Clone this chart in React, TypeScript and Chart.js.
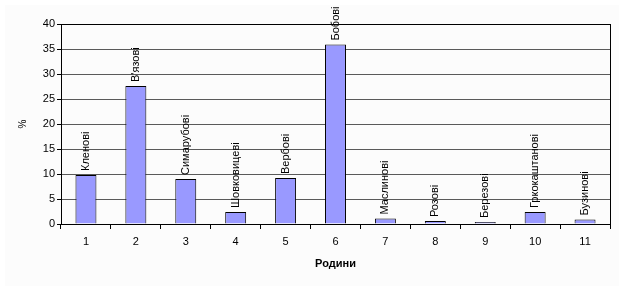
import React, { useEffect, useRef } from "react";
import { Chart, registerables } from "chart.js";

Chart.register(...registerables);

const categories = ["1", "2", "3", "4", "5", "6", "7", "8", "9", "10", "11"];
const families = [
  "Кленові",
  "В'язові",
  "Симарубові",
  "Шовковицеві",
  "Вербові",
  "Бобові",
  "Маслинові",
  "Розові",
  "Березові",
  "Гркокаштанові",
  "Бузинові",
];
const percents = [9.8, 27.6, 9.0, 2.4, 9.2, 35.9, 1.1, 0.6, 0.4, 2.4, 0.9];
const yTicksMax = 40;
const yStep = 5;
const yTitle = "%";
const xTitle = "Родини";

const FONT = "'Liberation Sans', Arial, sans-serif";

export default function App() {
  const ref = useRef<HTMLCanvasElement | null>(null);
  useEffect(() => {
    if (!ref.current) return;
    const bg = {
      id: "bg",
      beforeDraw(chart: any) {
        const c = chart.ctx;
        c.save();
        c.fillStyle = "#ffffff";
        c.fillRect(0, 0, chart.width, chart.height);
        c.fillStyle = "#fcfcfc";
        c.fillRect(5, 5, chart.width - 10, chart.height - 9);
        c.restore();
      },
      afterDraw(chart: any) {
        const c = chart.ctx;
        const a = chart.chartArea;
        c.save();
        c.strokeStyle = "#000";
        c.lineWidth = 1;
        c.beginPath();
        c.moveTo(Math.round(a.right) + 0.5, a.top);
        c.lineTo(Math.round(a.right) + 0.5, a.bottom);
        c.stroke();
        // data labels
        const meta = chart.getDatasetMeta(0);
        c.fillStyle = "#000";
        c.font = `11px ${FONT}`;
        c.textAlign = "left";
        c.textBaseline = "middle";
        meta.data.forEach((bar: any, i: number) => {
          c.save();
          c.translate(bar.x, bar.y - 4);
          c.rotate(-Math.PI / 2);
          c.fillText(families[i], 0, 0);
          c.restore();
        });
        // axis titles
        c.save();
        c.font = `10px ${FONT}`;
        c.textAlign = "center";
        c.translate(23, (a.top + a.bottom) / 2);
        c.rotate(-Math.PI / 2);
        c.fillText(yTitle, 0, 0);
        c.restore();
        c.font = `bold 11px ${FONT}`;
        c.textAlign = "center";
        c.fillText(xTitle, (a.left + a.right) / 2, 264);
        c.restore();
      },
    };
    const chart = new Chart(ref.current, {
      type: "bar",
      data: {
        labels: categories,
        datasets: [
          {
            data: percents,
            backgroundColor: "#9999ff",
            borderColor: "#000000",
            borderWidth: 1,
            barPercentage: 0.42,
            categoryPercentage: 1,
          },
        ],
      },
      options: {
        animation: false,
        responsive: false,
        devicePixelRatio: 1,
        layout: { padding: { top: 24, right: 14, left: 0, bottom: 0 } },
        plugins: { legend: { display: false }, tooltip: { enabled: false } },
        scales: {
          x: {
            afterFit: (s: any) => {
              s.height = 66;
            },
            offset: true,
            grid: {
              offset: true,
              drawOnChartArea: false,
              tickLength: 5,
              tickColor: "#000",
            },
            border: { color: "#000" },
            ticks: { color: "#000", font: { family: FONT, size: 11 }, padding: 6 },
          },
          y: {
            min: 0,
            max: yTicksMax,
            afterFit: (s: any) => {
              s.width = 61;
            },
            grid: {
              color: (ctx: any) =>
                ctx.tick && ctx.tick.value === yTicksMax ? "#000" : "#5a5a5a",
              tickColor: "#000",
              tickLength: 4,
            },
            border: { color: "#000" },
            ticks: {
              stepSize: yStep,
              color: "#000",
              font: { family: FONT, size: 11 },
              padding: 2,
            },
          },
        },
      },
      plugins: [bg],
    });
    return () => chart.destroy();
  }, []);
  return (
    <div style={{ position: "absolute", left: 0, top: 0, width: 624, height: 290 }}>
      <canvas ref={ref} width={624} height={290} style={{ display: "block" }} />
    </div>
  );
}
